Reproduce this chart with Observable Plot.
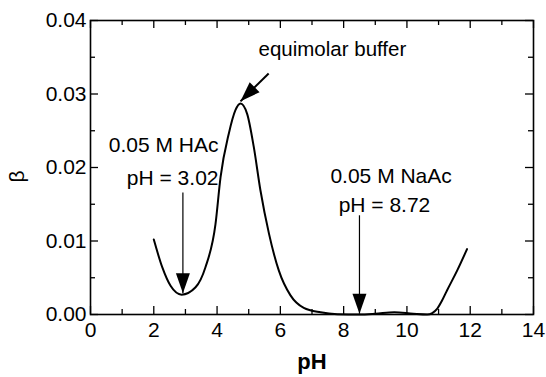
<!DOCTYPE html>
<html>
<head>
<meta charset="utf-8">
<script src="https://cdn.jsdelivr.net/npm/d3@7"></script>
<script src="https://cdn.jsdelivr.net/npm/@observablehq/plot@0.6"></script>
<style>
  html, body { margin: 0; padding: 0; background: white; }
</style>
</head>
<body>
<div id="chart"></div>
<script>
// Curve values
const pH   = [2.00, 2.27, 2.53, 2.88, 3.32, 3.63, 3.95, 4.11, 4.37, 4.58, 4.74, 4.95, 5.16, 5.37, 5.64, 5.95, 6.32, 6.74, 7.27, 7.80, 8.50, 9.00, 9.60, 10.20, 10.64, 10.80, 10.96, 11.11, 11.27, 11.59, 11.90];
const beta = [0.0102, 0.0064, 0.0039, 0.0027, 0.0037, 0.0064, 0.0123, 0.0187, 0.0246, 0.0278, 0.0287, 0.0273, 0.0228, 0.0169, 0.0110, 0.0060, 0.0026, 0.0009, 0.0003, 0.00005, 0.0000, 0.0001, 0.0003, 0.0001, 0.0000, 0.0002, 0.0008, 0.0019, 0.0033, 0.0060, 0.0089];

// Ticks
const xTicksMajor = [0, 2, 4, 6, 8, 10, 12, 14];
const xTicksMinor = [1, 3, 5, 7, 9, 11, 13];
const yTicksMajor = [0, 0.01, 0.02, 0.03, 0.04];
const yTicksMinor = [0.005, 0.015, 0.025, 0.035];

// Annotation labels (data units)
const labelText   = ["equimolar buffer", "0.05 M HAc", "pH = 3.02", "0.05 M NaAc", "pH = 8.72"];
const labelX      = [5.31, 4.045, 4.045, 9.50, 9.29];
const labelY      = [0.0361, 0.0230, 0.0186, 0.0188, 0.0148];
const labelAnchor = ["start", "end", "end", "middle", "middle"];

// Annotation arrows (data units)
const arrowFromX = [5.63, 2.92, 8.50];
const arrowFromY = [0.0328, 0.0166, 0.0135];
const arrowToX   = [4.74, 2.92, 8.50];
const arrowToY   = [0.0290, 0.0029, 0.0001];

const curve = pH.map((x, i) => ({x, y: beta[i]}));
const labels = labelText.map((t, i) => ({t, x: labelX[i], y: labelY[i], a: labelAnchor[i]}));
const arrows = arrowFromX.map((x1, i) => ({x1, y1: arrowFromY[i], x2: arrowToX[i], y2: arrowToY[i]}));

// arrowhead symbols (tip at origin)
const headDown = {draw(c) { c.moveTo(0, 0); c.lineTo(-7, -20); c.lineTo(7, -20); c.closePath(); }};
const headDownLeft = {draw(c) { c.moveTo(0, 0); c.lineTo(19.09, -9.19); c.lineTo(9.19, -19.09); c.closePath(); }};

const W = 546, H = 377, mL = 90, mR = 13, mT = 20, mB = 63;
const fw = W - mL - mR, fh = H - mT - mB;
const major = 8, minor = 5;

const chart = Plot.plot({
  width: W,
  height: H,
  marginLeft: mL,
  marginRight: mR,
  marginTop: mT,
  marginBottom: mB,
  style: {fontFamily: "'Liberation Sans', Arial, Helvetica, sans-serif", fontSize: "21px", color: "black", background: "white"},
  x: {domain: [0, 14], ticks: xTicksMajor, tickSize: 0, tickPadding: 8, label: null},
  y: {domain: [0, 0.04], ticks: yTicksMajor, tickSize: 0, tickPadding: 4, tickFormat: d3.format(".2f"), label: null},
  marks: [
    // inward ticks on all four sides
    Plot.ruleX(xTicksMajor, {x: d => d, insetTop: fh - major, strokeWidth: 1.3}),
    Plot.ruleX(xTicksMinor, {x: d => d, insetTop: fh - minor, strokeWidth: 1.3}),
    Plot.ruleX(xTicksMajor, {x: d => d, insetBottom: fh - major, strokeWidth: 1.3}),
    Plot.ruleX(xTicksMinor, {x: d => d, insetBottom: fh - minor, strokeWidth: 1.3}),
    Plot.ruleY(yTicksMajor, {y: d => d, insetRight: fw - major, strokeWidth: 1.3}),
    Plot.ruleY(yTicksMinor, {y: d => d, insetRight: fw - minor, strokeWidth: 1.3}),
    Plot.ruleY(yTicksMajor, {y: d => d, insetLeft: fw - major, strokeWidth: 1.3}),
    Plot.ruleY(yTicksMinor, {y: d => d, insetLeft: fw - minor, strokeWidth: 1.3}),
    Plot.frame({stroke: "black", strokeWidth: 1.6}),
    // curve
    Plot.line(curve, {x: "x", y: "y", curve: "monotone-x", stroke: "black", strokeWidth: 2}),
    // arrow shafts
    Plot.link(arrows.slice(0, 1), {x1: "x1", y1: "y1", x2: "x2", y2: "y2", stroke: "black", strokeWidth: 2}),
    Plot.link(arrows.slice(1), {x1: "x1", y1: "y1", x2: "x2", y2: "y2", stroke: "black", strokeWidth: 1.2}),
    // arrow heads
    Plot.dot(arrows.slice(0, 1), {x: "x2", y: "y2", symbol: headDownLeft, fill: "black", stroke: "none"}),
    Plot.dot(arrows.slice(1), {x: "x2", y: "y2", symbol: headDown, fill: "black", stroke: "none"}),
    // annotation labels
    Plot.text(labels, {x: "x", y: "y", text: "t", textAnchor: "start", filter: d => d.a === "start", fontSize: 20.5, fill: "black"}),
    Plot.text(labels, {x: "x", y: "y", text: "t", textAnchor: "end", filter: d => d.a === "end", fontSize: 21, fill: "black"}),
    Plot.text(labels, {x: "x", y: "y", text: "t", textAnchor: "middle", filter: d => d.a === "middle", fontSize: 21, fill: "black"}),
    // axis labels
    Plot.text(["pH"], {frameAnchor: "bottom", dy: 54, text: d => d, fontWeight: "bold", fontSize: 22, fill: "black"}),
    Plot.text(["β"], {frameAnchor: "left", dx: -73, dy: 15, rotate: -90, text: d => d, fontSize: 21, fill: "black"})
  ]
});
document.getElementById("chart").appendChild(chart);
</script>
</body>
</html>
